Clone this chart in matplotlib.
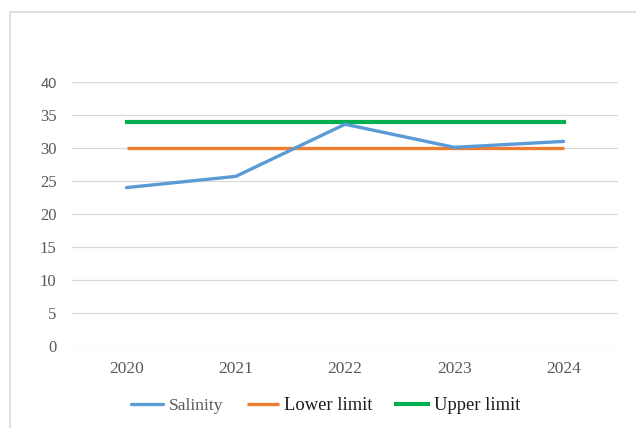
import matplotlib
matplotlib.use("Agg")
import matplotlib.pyplot as plt
from matplotlib.patches import Rectangle

# Données
years = ["2020", "2021", "2022", "2023", "2024"]
salinity = [24.0, 25.7, 33.6, 30.1, 31.0]
lower_limit = [30, 30, 30, 30, 30]
upper_limit = [34, 34, 34, 34, 34]
y_ticks = [0, 5, 10, 15, 20, 25, 30, 35, 40]

plt.rcParams["font.family"] = ["Liberation Serif", "DejaVu Serif"]

fig = plt.figure(figsize=(6.36, 4.28), dpi=100)
ax = fig.add_axes([0.113, 0.1916, 0.859, 0.6168])

x = list(range(len(years)))
ax.plot(x, salinity, color="#5B9BD5", linewidth=2.4, solid_capstyle="round",
        solid_joinstyle="round", label="Salinity", zorder=3)
ax.plot(x, lower_limit, color="#ED7D31", linewidth=2.4, solid_capstyle="butt",
        label="Lower limit", zorder=2)
ax.plot(x, upper_limit, color="#00B050", linewidth=3.0, solid_capstyle="projecting",
        label="Upper limit", zorder=2)

ax.set_xlim(-0.5, len(years) - 0.5)
ax.set_ylim(0, 40)
ax.set_xticks(x)
ax.set_xticklabels(years)
ax.set_yticks(y_ticks)
ax.set_yticklabels([str(v) for v in y_ticks])
ax.grid(axis="y", color="#D9D9D9", linewidth=0.9)
ax.set_axisbelow(True)
for s in ax.spines.values():
    s.set_visible(False)
ax.tick_params(length=0, colors="#595959")
ax.tick_params(axis="x", pad=11, labelsize=12.5)
ax.tick_params(axis="y", pad=11, labelsize=12)
# le "40" est en sans-serif étroit
lbl40 = ax.get_yticklabels()[-1]
lbl40.set_family("Liberation Sans")
lbl40.set_fontsize(10.5)

# cadre gris clair du graphique
fig.patches.append(Rectangle((10 / 636, -0.1), 1.2, (428 - 12) / 428 + 0.1,
                             transform=fig.transFigure, fill=False,
                             edgecolor="#D9D9D9", linewidth=1.2))

leg = fig.legend(loc="center", bbox_to_anchor=(0.512, 1 - 406 / 428), ncol=3,
                 frameon=False, handlelength=1.75, handletextpad=0.3,
                 columnspacing=1.25, fontsize=13.3)
texts = leg.get_texts()
texts[0].set_color("#595959")
texts[0].set_fontsize(12.5)
texts[0].set_fontstretch("condensed")
for t in texts[1:]:
    t.set_color("#1a1a1a")

fig.savefig("out.png", dpi=100)
